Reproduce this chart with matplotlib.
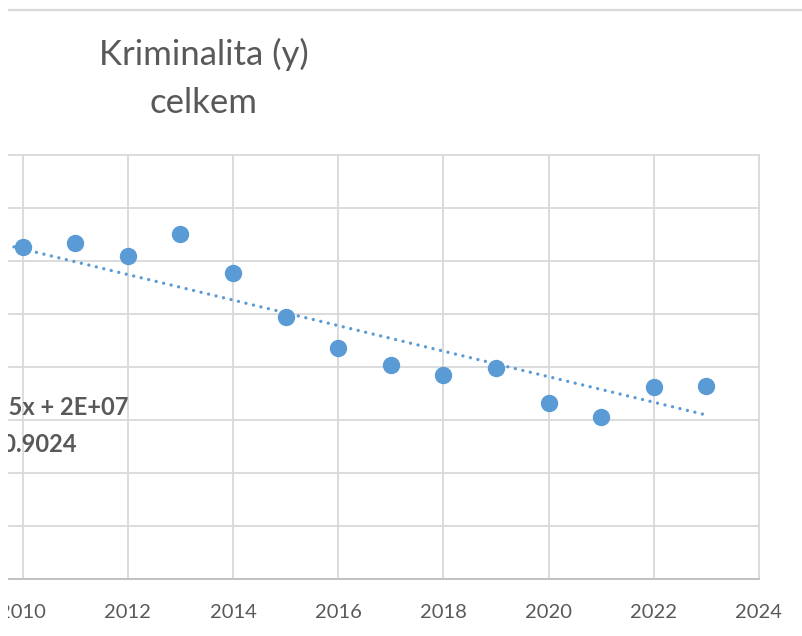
import matplotlib
matplotlib.use("Agg")
import matplotlib.pyplot as plt
from matplotlib.lines import Line2D
from matplotlib.patches import Rectangle
import numpy as np

# Data (number of crimes per year)
years = [2010, 2011, 2012, 2013, 2014, 2015, 2016, 2017, 2018, 2019, 2020, 2021, 2022, 2023]
crimes = [313400, 317200, 304500, 325400, 288700, 247600, 218200, 202300,
          192400, 199200, 165600, 152700, 181600, 181800]

# Linear trendline as drawn in the chart
trend_slope = -12045
trend_intercept = 24521750
trend_label = "y = -12045x + 2E+07"
r2_label = "R² = 0.9024"

title_lines = ["Kriminalita (y)", "celkem"]
x_ticks = [2010, 2012, 2014, 2016, 2018, 2020, 2022, 2024]
y_ticks = list(range(0, 400001, 50000))

W, H = 802, 636
plt.rcParams["font.family"] = ["Lato", "DejaVu Sans"]
text_color = "#595959"
grid_color = "#D9D9D9"
blue = "#5B9BD5"

fig = plt.figure(figsize=(W / 100, H / 100), dpi=100)
ax = fig.add_axes([8 / W, (H - 579) / H, 751 / W, 424 / H])

ax.set_xlim(2010 - 14.7 / 52.59, 2024)
ax.set_ylim(0, 400000)
ax.set_xticks(x_ticks)
ax.set_yticks(y_ticks)
ax.set_yticklabels([])
ax.tick_params(axis="both", length=0)
ax.tick_params(axis="x", labelsize=14.5, labelcolor=text_color, pad=18)

ax.grid(True, color=grid_color, linewidth=1.3)
ax.set_axisbelow(True)
for name, sp in ax.spines.items():
    sp.set_visible(False)
ax.spines["bottom"].set_visible(True)
ax.spines["bottom"].set_color("#BFBFBF")
ax.spines["bottom"].set_linewidth(1.3)
for gl in ax.get_xgridlines() + ax.get_ygridlines():
    gl.set_clip_on(False)

# points
ax.plot(years, crimes, linestyle="none", marker="o", markersize=11.5,
        color=blue, zorder=3)

# dotted trendline
tx = np.array([2009.5, years[-1]])
ty = trend_slope * tx + trend_intercept
ax.plot(tx, ty, color=blue, linewidth=2.4, linestyle=(0, (0.01, 2.3)),
        dash_capstyle="round", zorder=2)

# trendline label (cut off by the left edge)
fig.text(128 / W, (H - 415) / H, trend_label, ha="right", va="baseline",
         fontsize=17, fontweight="bold", color=text_color)
fig.text(77 / W, (H - 452) / H, r2_label, ha="right", va="baseline",
         fontsize=17, fontweight="bold", color=text_color)

# title, two centred lines
fig.text(204 / W, (H - 65) / H, title_lines[0], ha="center", va="baseline",
         fontsize=25, color=text_color)
fig.text(204 / W, (H - 113) / H, title_lines[1], ha="center", va="baseline",
         fontsize=25, color=text_color)

# thin frame line at the top
fig.add_artist(Line2D([8 / W, 1], [(H - 10) / H] * 2, transform=fig.transFigure,
                      color=grid_color, linewidth=1.6))

# crop edge on the left
fig.add_artist(Rectangle((0, 0), 8 / W, 1, transform=fig.transFigure,
                         facecolor="white", edgecolor="none", zorder=10))

fig.savefig("out.png", dpi=100, facecolor="white")
